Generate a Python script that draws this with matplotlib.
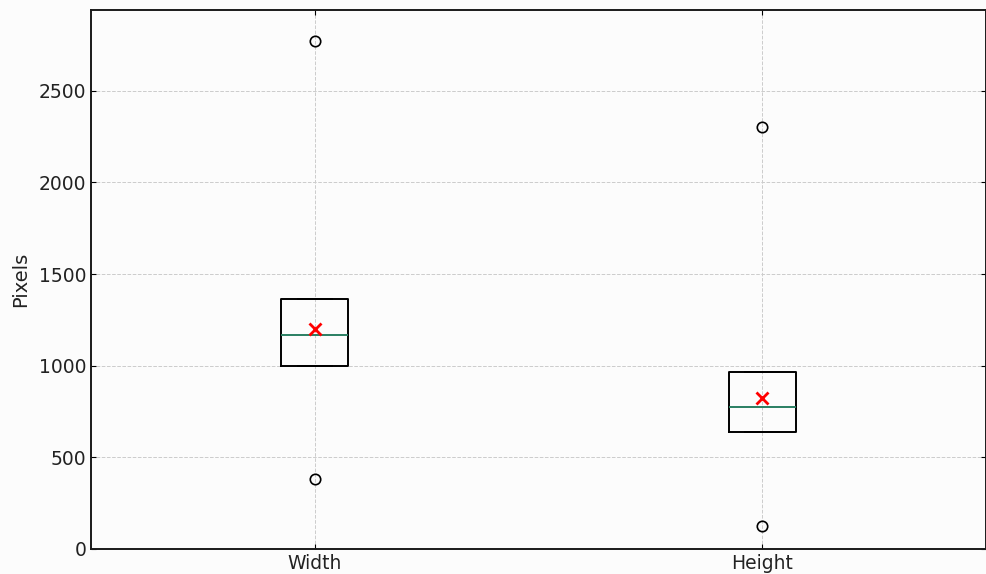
import matplotlib.pyplot as plt

# box statistics (pixels)
labels = ["Width", "Height"]
q1 = [999, 639]
q3 = [1365, 966]
medians = [1168, 775]
means = [1201, 824]
fliers = [[2773, 382], [2303, 126]]

stats = []
for i in range(len(labels)):
    stats.append({
        "label": labels[i],
        "q1": q1[i], "q3": q3[i], "med": medians[i], "mean": means[i],
        "whislo": q1[i], "whishi": q3[i], "fliers": fliers[i],
    })

fig = plt.figure(figsize=(9.87, 5.74), dpi=100, facecolor="#fcfcfc")
ax = fig.add_axes([91 / 987, 25 / 574, 895 / 987, 539 / 574])
ax.set_facecolor("#fcfcfc")

ax.bxp(stats, showmeans=True,
       boxprops=dict(color="black", linewidth=1.4),
       medianprops=dict(color="#2a7f62", linewidth=1.4),
       whiskerprops=dict(color="black", linewidth=1.4),
       capprops=dict(color="black", linewidth=1.4),
       flierprops=dict(marker="o", markerfacecolor="none", markeredgecolor="black",
                       markersize=7.5, markeredgewidth=1.2),
       meanprops=dict(marker="x", markeredgecolor="red", markersize=8, markeredgewidth=2))

ax.set_ylim(0, 2940)
ax.set_xlim(0.5, 2.5)
ax.set_ylabel("Pixels", fontsize=14, color="#222222", labelpad=6)
ax.tick_params(axis="both", direction="in", labelsize=13.5, labelcolor="#222222",
               top=True, right=True)
ax.grid(True, linestyle="--", color="#cccccc", linewidth=0.7)
ax.set_axisbelow(True)
for s in ax.spines.values():
    s.set_linewidth(1.4)
    s.set_color("#1a1a1a")

plt.savefig("out.png", dpi=100, facecolor=fig.get_facecolor())
